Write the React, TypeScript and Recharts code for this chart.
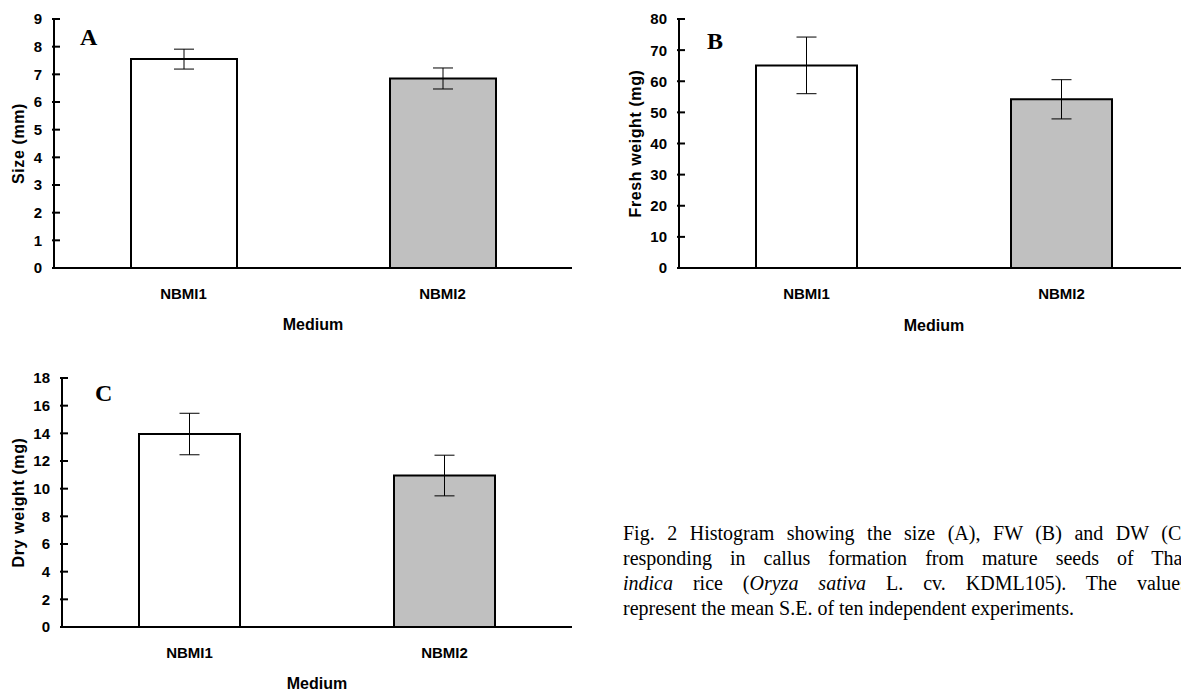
import { BarChart, Bar, XAxis, YAxis, ErrorBar, Cell, Label } from 'recharts';

const media = ['NBMI1', 'NBMI2'];
const sizeMean = [7.55, 6.85];
const sizeSE = [0.36, 0.38];
const freshMean = [65.1, 54.2];
const freshSE = [9.1, 6.3];
const dryMean = [13.95, 10.95];
const drySE = [1.5, 1.47];
const barFills = ['#ffffff', '#c0c0c0'];

const sizeTicks = [0, 1, 2, 3, 4, 5, 6, 7, 8, 9];
const freshTicks = [0, 10, 20, 30, 40, 50, 60, 70, 80];
const dryTicks = [0, 2, 4, 6, 8, 10, 12, 14, 16, 18];

const sans = 'Arial, "Liberation Sans", sans-serif';
const serif = '"Times New Roman", "Liberation Serif", serif';

const toRows = (means: number[], errs: number[]) =>
  media.map((name, i) => ({ name, value: means[i], err: errs[i] }));

// tick that crosses the axis line, like the original Excel style
const YTick = ({ x, y, payload }: any) => (
  <g>
    <line x1={x + 10} x2={x + 18} y1={y} y2={y} stroke="#000" strokeWidth={2} />
    <text x={x} y={y} dy="0.36em" textAnchor="end" fill="#000" fontSize={15} fontWeight="bold" fontFamily={sans}>
      {payload.value}
    </text>
  </g>
);

interface PanelProps {
  rows: { name: string; value: number; err: number }[];
  ticks: number[];
  yLabel: string;
  width: number;
  height: number;
  margin: { top: number; right: number; left: number; bottom: number };
  yAxisWidth: number;
  xAxisHeight: number;
  yLabelOffset: number;
  xLabelOffset: number;
  barSize: number;
}

const Panel = ({ rows, ticks, yLabel, width, height, margin, yAxisWidth, xAxisHeight, yLabelOffset, xLabelOffset, barSize }: PanelProps) => (
  <BarChart width={width} height={height} data={rows} margin={margin}>
    <XAxis
      dataKey="name"
      interval={0}
      tickLine={false}
      tickSize={0}
      tickMargin={20}
      height={xAxisHeight}
      axisLine={{ stroke: '#000', strokeWidth: 2 }}
      tick={{ fill: '#000', fontSize: 15, fontWeight: 'bold', fontFamily: sans }}
    >
      <Label
        value="Medium"
        position="insideBottom"
        offset={xLabelOffset}
        style={{ fill: '#000', fontSize: 16, fontWeight: 'bold', fontFamily: sans }}
      />
    </XAxis>
    <YAxis
      domain={[0, ticks[ticks.length - 1]]}
      ticks={ticks}
      interval={0}
      width={yAxisWidth}
      tickLine={false}
      tickSize={0}
      tickMargin={12}
      axisLine={{ stroke: '#000', strokeWidth: 2 }}
      tick={<YTick />}
    >
      <Label
        value={yLabel}
        angle={-90}
        position="insideLeft"
        offset={yLabelOffset}
        style={{ textAnchor: 'middle', fill: '#000', fontSize: 16, fontWeight: 'bold', fontFamily: sans, letterSpacing: 0.6 }}
      />
    </YAxis>
    <Bar dataKey="value" barSize={barSize} stroke="#000" strokeWidth={2} isAnimationActive={false}>
      {rows.map((r, i) => (
        <Cell key={r.name} fill={barFills[i]} />
      ))}
      <ErrorBar dataKey="err" width={10} stroke="#000" strokeWidth={1} />
    </Bar>
  </BarChart>
);

const letterStyle = (left: number, top: number) => ({
  position: 'absolute' as const,
  left,
  top,
  fontFamily: serif,
  fontWeight: 'bold' as const,
  fontSize: 24,
  lineHeight: '24px',
});

const lineStyle = { textAlign: 'justify' as const, textAlignLast: 'justify' as const };

export default function App() {
  return (
    <div style={{ position: 'absolute', left: 0, top: 0, width: 1181, height: 692, overflow: 'hidden', background: '#fff' }}>
      <div style={{ position: 'absolute', left: 0, top: 0 }}>
        <Panel
          rows={toRows(sizeMean, sizeSE)}
          ticks={sizeTicks}
          yLabel="Size (mm)"
          width={600}
          height={340}
          margin={{ top: 19, right: 28, left: 0, bottom: 0 }}
          yAxisWidth={54}
          xAxisHeight={72}
          yLabelOffset={18}
          xLabelOffset={10}
          barSize={106}
        />
      </div>
      <div style={{ position: 'absolute', left: 600, top: 0 }}>
        <Panel
          rows={toRows(freshMean, freshSE)}
          ticks={freshTicks}
          yLabel="Fresh weight (mg)"
          width={600}
          height={340}
          margin={{ top: 19, right: 11, left: 0, bottom: 0 }}
          yAxisWidth={79}
          xAxisHeight={72}
          yLabelOffset={35}
          xLabelOffset={9}
          barSize={101}
        />
      </div>
      <div style={{ position: 'absolute', left: 0, top: 340 }}>
        <Panel
          rows={toRows(dryMean, drySE)}
          ticks={dryTicks}
          yLabel="Dry weight (mg)"
          width={600}
          height={360}
          margin={{ top: 38, right: 28, left: 0, bottom: 0 }}
          yAxisWidth={62}
          xAxisHeight={73}
          yLabelOffset={18}
          xLabelOffset={11}
          barSize={101}
        />
      </div>

      <div style={letterStyle(80, 25)}>A</div>
      <div style={letterStyle(707, 29)}>B</div>
      <div style={letterStyle(95, 381)}>C</div>

      <div style={{ position: 'absolute', left: 623, top: 521, width: 565, fontFamily: serif, fontSize: 20, lineHeight: '25px', color: '#000' }}>
        <div style={lineStyle}>Fig. 2 Histogram showing the size (A), FW (B) and DW (C)</div>
        <div style={lineStyle}>responding in callus formation from mature seeds of Thai</div>
        <div style={lineStyle}>
          <i>indica</i> rice (<i>Oryza sativa</i> L. cv. KDML105). The values
        </div>
        <div>represent the mean S.E. of ten independent experiments.</div>
      </div>
    </div>
  );
}
